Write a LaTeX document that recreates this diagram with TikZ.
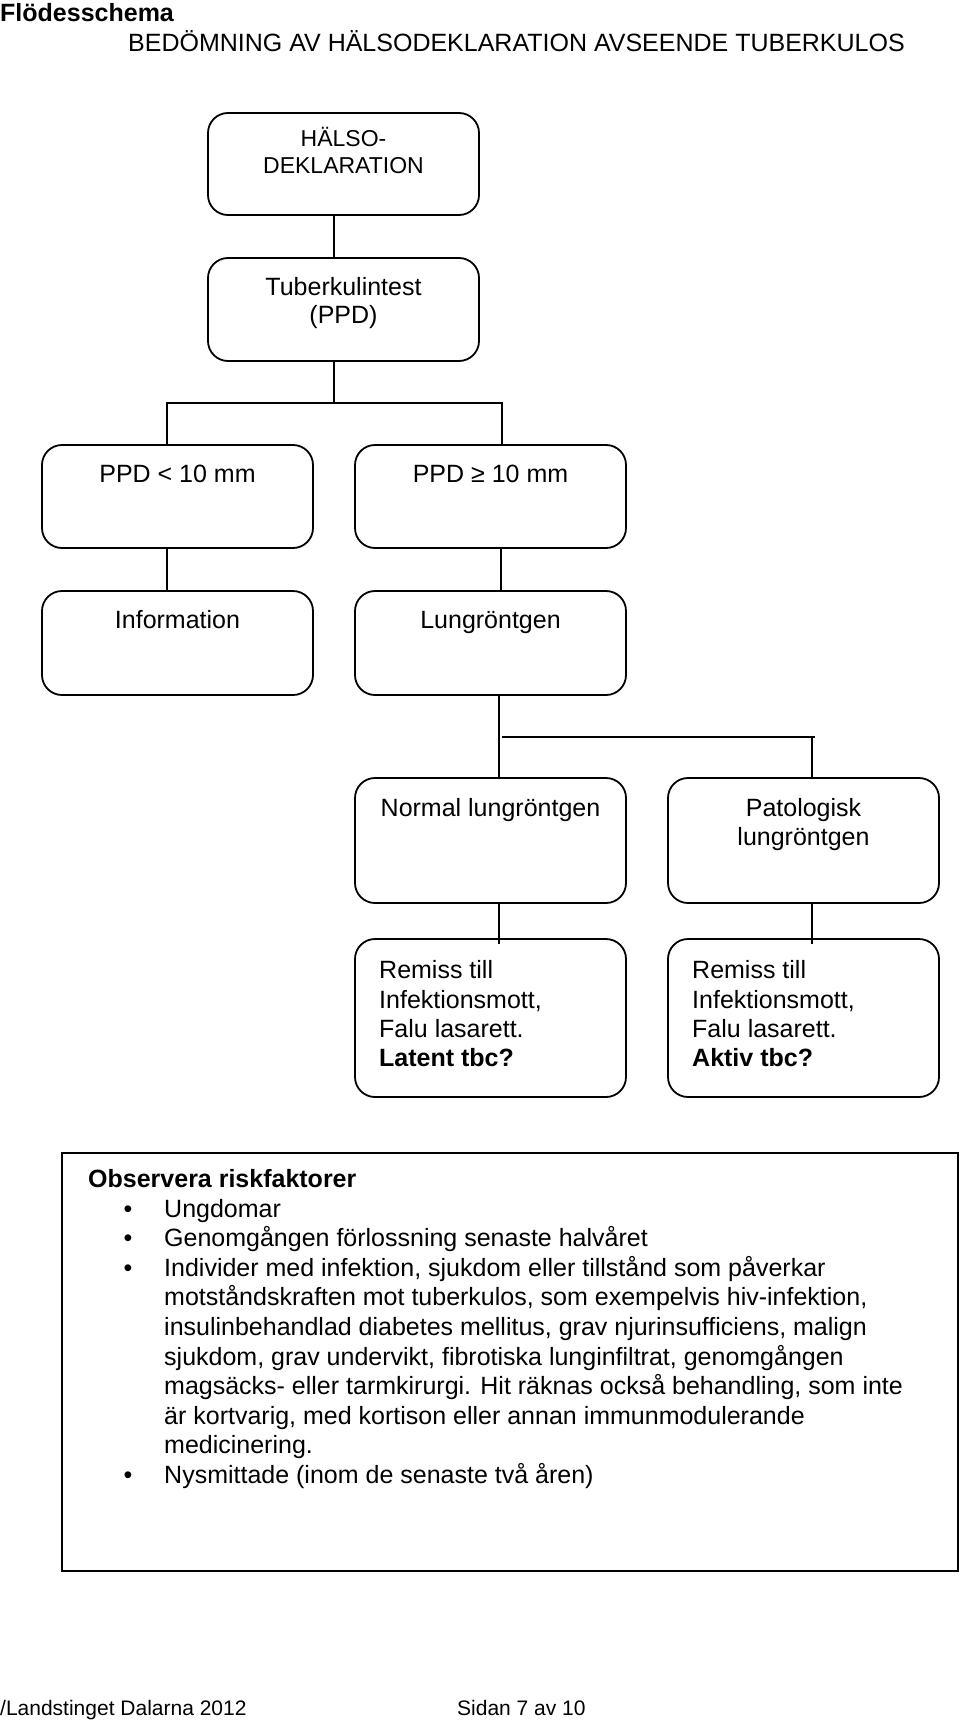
\documentclass[tikz,border=0pt]{standalone}
\usepackage{fontspec}
\setmainfont{Liberation Sans}
\begin{document}
\begin{tikzpicture}[x=1pt,y=-1pt,
  box/.style={draw, line width=1.8pt, rounded corners=20pt, minimum width=271pt, inner sep=0pt},
  plain/.style={draw, line width=1.8pt},
  conn/.style={line width=1.8pt},
  txt/.style={anchor=base, inner sep=0pt, font=\fontsize{25}{29.6}\selectfont},
  txtl/.style={anchor=base west, inner sep=0pt, font=\fontsize{25}{29.6}\selectfont},
  small/.style={anchor=base, inner sep=0pt, font=\fontsize{23}{27}\selectfont},
  foot/.style={anchor=base west, inner sep=0pt, font=\fontsize{21}{25}\selectfont}]
\useasboundingbox (0,0) rectangle (960,1720);
% titles
\node[txtl, font=\fontsize{25}{29.6}\selectfont\bfseries] (t1) at (0,22) {Flödesschema};
\node[txtl] (t2) at (128,52) {BEDÖMNING AV HÄLSODEKLARATION AVSEENDE TUBERKULOS};
% boxes
\node[box, minimum height=102pt] (hal) at (343.5,164) {};
\node[box, minimum height=103pt] (tub) at (343.5,309.5) {};
\node[box, minimum height=103pt] (ppdl) at (177.5,496.5) {};
\node[box, minimum height=103pt] (ppdg) at (490.5,496.5) {};
\node[box, minimum height=104pt] (info) at (177.5,643) {};
\node[box, minimum height=104pt] (lung) at (490.5,643) {};
\node[box, minimum height=125pt] (norm) at (490.5,840.5) {};
\node[box, minimum height=125pt] (pato) at (803.5,840.5) {};
\node[box, minimum height=158pt] (reml) at (490.5,1018) {};
\node[box, minimum height=158pt] (remr) at (803.5,1018) {};
\node[plain, minimum width=896pt, minimum height=418pt, inner sep=0pt] (obs) at (510,1362) {};
% box texts
\node[small] (h1) at (343.5,147) {HÄLSO-};
\node[small] (h2) at (343.5,174) {DEKLARATION};
\node[txt] (u1) at (343.5,295) {Tuberkulintest};
\node[txt] (u2) at (343.5,323) {(PPD)};
\node[txt] (p1) at (177.5,482) {PPD < 10 mm};
\node[txt] (p2) at (490.5,482) {PPD ≥ 10 mm};
\node[txt] (i1) at (177.5,628) {Information};
\node[txt] (l1) at (490.5,628) {Lungröntgen};
\node[txt] (n1) at (490.5,816) {Normal lungröntgen};
\node[txt] (a1) at (803.5,816) {Patologisk};
\node[txt] (a2) at (803.5,845) {lungröntgen};
\node[txtl] (r1) at (379,978) {Remiss till};
\node[txtl] (r2) at (379,1008) {Infektionsmott,};
\node[txtl] (r3) at (379,1037) {Falu lasarett.};
\node[txtl, font=\fontsize{25}{29.6}\selectfont\bfseries] (r4) at (379,1066) {Latent tbc?};
\node[txtl] (s1) at (692,978) {Remiss till};
\node[txtl] (s2) at (692,1008) {Infektionsmott,};
\node[txtl] (s3) at (692,1037) {Falu lasarett.};
\node[txtl, font=\fontsize{25}{29.6}\selectfont\bfseries] (s4) at (692,1066) {Aktiv tbc?};
% risk factors
\node[txtl, font=\fontsize{25}{29.6}\selectfont\bfseries] (o0) at (88,1187) {Observera riskfaktorer};
\foreach \y in {1217,1246,1276,1483} {\node[txt] at (128,\y) {•};}
\node[txtl] (o1) at (164,1217) {Ungdomar};
\node[txtl] (o2) at (164,1246) {Genomgången förlossning senaste halvåret};
\node[txtl] (o3) at (164,1276) {Individer med infektion, sjukdom eller tillstånd som påverkar};
\node[txtl] (o4) at (164,1305) {motståndskraften mot tuberkulos, som exempelvis hiv-infektion,};
\node[txtl] (o5) at (164,1335) {insulinbehandlad diabetes mellitus, grav njurinsufficiens, malign};
\node[txtl] (o6) at (164,1365) {sjukdom, grav undervikt, fibrotiska lunginfiltrat, genomgången};
\node[txtl] (o7) at (164,1394) {magsäcks- eller tarmkirurgi. Hit räknas också behandling, som inte};
\node[txtl] (o8) at (164,1424) {är kortvarig, med kortison eller annan immunmodulerande};
\node[txtl] (o9) at (164,1453) {medicinering.};
\node[txtl] (o10) at (164,1483) {Nysmittade (inom de senaste två åren)};
% footer
\node[foot] (f1) at (0,1715) {/Landstinget Dalarna 2012};
\node[foot] (f2) at (457,1715) {Sidan 7 av 10};
% connectors
\coordinate (fork1) at (334,403);
\coordinate (fork2) at (502,737);
\draw[conn] ([xshift=-9.5pt]hal.south) -- ([xshift=-9.5pt]tub.north);
\draw[conn] ([xshift=-9.5pt]tub.south) -- ([xshift=-9.5pt]tub.south |- fork1);
\draw[conn] ([xshift=-10.5pt]ppdl.north) |- ([xshift=11.5pt]ppdg.north |- fork1) -- ([xshift=11.5pt]ppdg.north);
\draw[conn] ([xshift=-10.5pt]ppdl.south) -- ([xshift=-10.5pt]info.north);
\draw[conn] ([xshift=10.5pt]ppdg.south) -- ([xshift=10.5pt]lung.north);
\draw[conn] ([xshift=8.5pt]lung.south) -- ([xshift=8.5pt]norm.north);
\draw[conn] (fork2) -- ([xshift=11.5pt]pato.north |- fork2);
\draw[conn] ([xshift=8.5pt]pato.north |- fork2) -- ([xshift=8.5pt]pato.north);
\draw[conn] ([xshift=8.5pt]norm.south) -- ([xshift=8.5pt,yshift=-6pt]reml.north);
\draw[conn] ([xshift=8.5pt]pato.south) -- ([xshift=8.5pt,yshift=-6pt]remr.north);
\end{tikzpicture}
\end{document}
